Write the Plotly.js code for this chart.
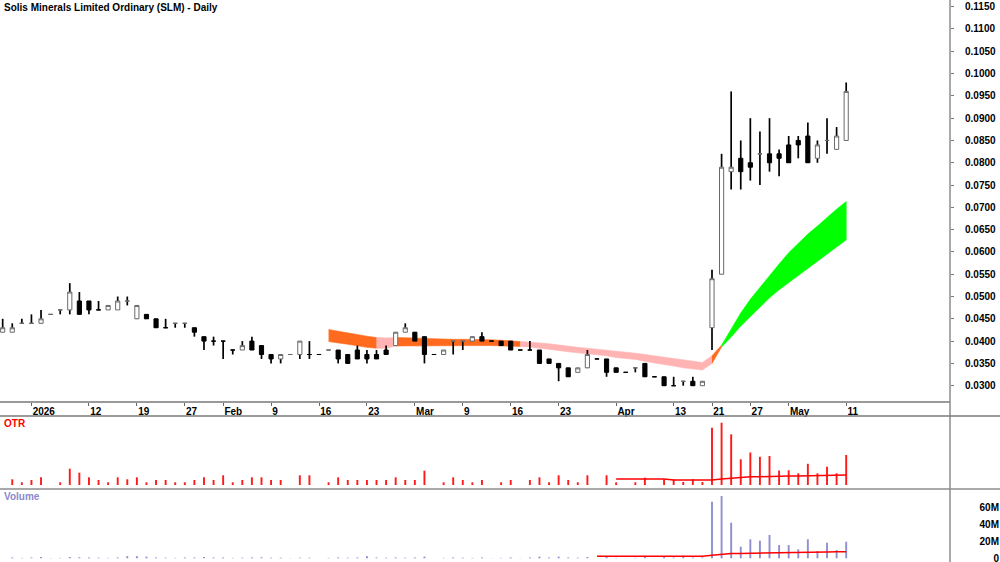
<!DOCTYPE html>
<html><head><meta charset="utf-8">
<script src="https://cdn.plot.ly/plotly-3.0.1.min.js"></script>
<style>html,body{margin:0;padding:0;background:#fff}#chart{width:1000px;height:562px}</style>
</head><body><div id="chart"></div>
<script>
const dates = ["2025-12-29","2025-12-30","2025-12-31","2026-01-02","2026-01-05","2026-01-06","2026-01-07","2026-01-08","2026-01-09","2026-01-12","2026-01-13","2026-01-14","2026-01-15","2026-01-16","2026-01-19","2026-01-20","2026-01-21","2026-01-22","2026-01-23","2026-01-27","2026-01-28","2026-01-29","2026-01-30","2026-02-02","2026-02-03","2026-02-04","2026-02-05","2026-02-06","2026-02-09","2026-02-10","2026-02-11","2026-02-12","2026-02-13","2026-02-16","2026-02-17","2026-02-18","2026-02-19","2026-02-20","2026-02-23","2026-02-24","2026-02-25","2026-02-26","2026-02-27","2026-03-02","2026-03-03","2026-03-04","2026-03-05","2026-03-06","2026-03-09","2026-03-10","2026-03-11","2026-03-12","2026-03-13","2026-03-16","2026-03-17","2026-03-18","2026-03-19","2026-03-20","2026-03-23","2026-03-24","2026-03-25","2026-03-27","2026-03-30","2026-03-31","2026-04-01","2026-04-02","2026-04-07","2026-04-08","2026-04-09","2026-04-10","2026-04-13","2026-04-14","2026-04-16","2026-04-20","2026-04-21","2026-04-22","2026-04-23","2026-04-24","2026-04-27","2026-04-28","2026-04-29","2026-04-30","2026-05-01","2026-05-04","2026-05-05","2026-05-06","2026-05-07","2026-05-08","2026-05-11"];

const openP = [0.042,0.042,0.044,0.044,0.044,0.046,0.047,0.047,0.049,0.049,0.047,0.047,0.047,0.049,0.045,0.046,0.045,0.043,0.044,0.044,0.043,0.041,0.040,0.040,0.038,0.038,0.040,0.039,0.037,0.036,0.037,0.037,0.037,0.037,0.038,0.038,0.037,0.038,0.037,0.037,0.038,0.039,0.042,0.042,0.041,0.037,0.037,0.040,0.040,0.040,0.041,0.040,0.040,0.040,0.038,0.038,0.038,0.036,0.035,0.034,0.033,0.034,0.036,0.036,0.034,0.033,0.034,0.035,0.032,0.032,0.030,0.031,0.031,0.030,0.043,0.055,0.078,0.081,0.080,0.082,0.082,0.082,0.084,0.085,0.086,0.081,0.085,0.083,0.085];
const highP = [0.045,0.044,0.045,0.046,0.047,0.046,0.047,0.053,0.051,0.049,0.049,0.048,0.050,0.050,0.048,0.046,0.045,0.045,0.044,0.044,0.043,0.041,0.041,0.040,0.038,0.040,0.041,0.039,0.037,0.037,0.037,0.040,0.040,0.037,0.038,0.038,0.037,0.039,0.038,0.038,0.039,0.042,0.044,0.042,0.041,0.037,0.038,0.040,0.040,0.041,0.042,0.040,0.040,0.040,0.038,0.040,0.038,0.036,0.035,0.034,0.034,0.038,0.036,0.036,0.034,0.033,0.034,0.035,0.032,0.032,0.032,0.031,0.032,0.031,0.056,0.082,0.096,0.085,0.090,0.087,0.090,0.083,0.086,0.086,0.089,0.085,0.090,0.088,0.098];
const lowP = [0.042,0.042,0.044,0.044,0.044,0.046,0.046,0.046,0.046,0.046,0.047,0.047,0.047,0.048,0.045,0.045,0.043,0.043,0.043,0.043,0.041,0.038,0.039,0.036,0.037,0.038,0.038,0.036,0.035,0.035,0.037,0.036,0.036,0.037,0.038,0.035,0.035,0.036,0.035,0.036,0.037,0.039,0.042,0.040,0.035,0.037,0.037,0.037,0.038,0.040,0.040,0.040,0.039,0.038,0.038,0.038,0.035,0.035,0.031,0.032,0.033,0.034,0.036,0.032,0.033,0.033,0.033,0.032,0.032,0.030,0.030,0.030,0.030,0.030,0.038,0.055,0.074,0.074,0.076,0.075,0.078,0.077,0.080,0.081,0.080,0.080,0.082,0.083,0.085];
const closeP = [0.043,0.043,0.044,0.044,0.045,0.046,0.047,0.051,0.046,0.047,0.047,0.048,0.049,0.049,0.048,0.045,0.043,0.043,0.044,0.044,0.042,0.040,0.040,0.040,0.038,0.039,0.038,0.037,0.036,0.037,0.037,0.040,0.037,0.037,0.038,0.036,0.035,0.036,0.036,0.036,0.037,0.042,0.043,0.040,0.037,0.037,0.038,0.040,0.040,0.041,0.040,0.040,0.039,0.038,0.038,0.038,0.035,0.035,0.034,0.032,0.034,0.037,0.036,0.033,0.033,0.033,0.034,0.032,0.032,0.030,0.030,0.031,0.030,0.031,0.054,0.079,0.079,0.078,0.079,0.082,0.080,0.081,0.080,0.084,0.080,0.084,0.085,0.086,0.096];

// trend ribbon (starts at index 34)
const ribbonStart = 34;
const ribbonUpper = [0.0426,0.0422,0.0419,0.0415,0.0411,0.0408,0.0407,0.0408,0.0408,0.0407,0.0406,0.0405,0.0404,0.0404,0.0404,0.0404,0.0404,0.0403,0.0402,0.0400,0.0399,0.0398,0.0396,0.0394,0.0391,0.0388,0.0386,0.0384,0.0382,0.0380,0.0377,0.0375,0.0373,0.0370,0.0367,0.0364,0.0361,0.0358,0.0354,0.0352,0.0367,0.0391,0.0427,0.0463,0.0494,0.0521,0.0548,0.0573,0.0598,0.0620,0.0640,0.0658,0.0678,0.0696,0.0713];
const ribbonLower = [0.0399,0.0396,0.0393,0.0390,0.0386,0.0384,0.0384,0.0389,0.0389,0.0389,0.0389,0.0389,0.0389,0.0389,0.0390,0.0390,0.0390,0.0390,0.0390,0.0389,0.0388,0.0387,0.0385,0.0382,0.0379,0.0376,0.0373,0.0371,0.0369,0.0367,0.0363,0.0361,0.0359,0.0355,0.0351,0.0347,0.0344,0.0340,0.0337,0.0335,0.0350,0.0387,0.0409,0.0434,0.0456,0.0476,0.0497,0.0515,0.0533,0.0548,0.0564,0.0580,0.0595,0.0611,0.0627];
// state of each ribbon interval: n = neutral (orange), d = down (pink), u = up (green)
const ribbonTrend = "nnnnnddnnnnnnnnnnnnnddddddddddddddddddddnuuuuuuuuuuuuu".split("");

const otr = [0,5.7,2.7,5,7.7,0,2.7,16.3,12.3,7.7,5,2.7,7.7,5.7,7.7,2.7,5,5,2.7,2.7,5,7.7,5,9.7,2.7,5,7.7,7.7,5,5,0,9.7,9.7,0,2.7,7.7,5,5,5,5,5,7.7,5,5,14.3,0,2.7,7.7,5,2.7,5,0,2.7,5,0,5,7.7,2.7,9.7,5,2.7,9.7,0,9.7,2.7,0,2.7,7.3,0,5.7,5.7,3,5.7,3,57.3,62.3,50.7,25.7,32.5,28.2,29,14.5,14.7,11.7,21.2,11.7,18.3,11.7,30];
const otrAvg = Array(64).fill(null).concat([6,6,6,6,6,6,5,5,5,5,5,6,7,7.7,8.3,8.3,8.7,9,9,9,9.3,9.3,9.7,9.7,10]);

const volumeM = [0,1,0.5,1,1.5,0.3,0.5,1.5,1.2,1,0.8,0.5,1,2.5,2.5,2,1,0.8,0.5,1,1,1.5,1,1,0.5,0.8,1,1.2,0.8,0.8,0.2,0.8,0.8,0.2,0.5,1,0.8,1,2.5,1,0.8,1,0.8,1,2,0.2,0.5,1,0.8,0.5,1,0.2,0.5,1,0.2,1,2,1,2,1,0.8,1.5,0.2,2,0.5,0.2,0.5,1.5,0.2,2,1,3,1,1,66.6,73.3,41.9,13.7,22.4,20.7,27.4,15.6,15.6,10.6,22.4,8.6,18.4,9.8,19.5];
const volumeAvgM = Array(62).fill(null).concat([2.5,2.5,2.5,2.5,2.5,2.5,2.5,2.5,2.5,2.5,2.5,2.5,3.5,4.7,5.5,5.7,5.8,6.0,6.2,6.5,6.6,6.7,7.0,7.2,7.4,7.6,7.8]);

const tickDates = ["2026-01-02","2026-01-12","2026-01-19","2026-01-27","2026-02-02","2026-02-09","2026-02-16","2026-02-23","2026-03-02","2026-03-09","2026-03-16","2026-03-23","2026-04-01","2026-04-13","2026-04-21","2026-04-27","2026-05-01","2026-05-11"];
const tickLabels = ["2026","12","19","27","Feb","9","16","23","Mar","9","16","23","Apr","13","21","27","May","11"];
const volTickVals = [0,20e6,40e6,60e6];
const volTickText = ["0","20M","40M","60M"];

const idx = dates.map((d,i)=>i);
const FONT = "Liberation Sans, Arial, sans-serif";
const colorMap = {n:"#FF6A1E", d:"#FFB3B3", u:"#00FF00"};

const traces = [];
// ribbon polygons
let runStart = 0;
for (let k=1;k<=ribbonTrend.length;k++){
  if (k===ribbonTrend.length || ribbonTrend[k]!==ribbonTrend[runStart]){
    const a = runStart, b = k;
    const xs=[], ys=[];
    for (let j=a;j<=b;j++){ xs.push(ribbonStart+j); ys.push(ribbonUpper[j]); }
    for (let j=b;j>=a;j--){ xs.push(ribbonStart+j); ys.push(ribbonLower[j]); }
    const c = colorMap[ribbonTrend[runStart]];
    traces.push({type:"scatter",mode:"lines",x:xs,y:ys,fill:"toself",fillcolor:c,line:{width:0.6,color:c},hoverinfo:"skip",xaxis:"x",yaxis:"y"});
    runStart = k;
  }
}
// wicks
const wx=[], wy=[];
idx.forEach(i=>{ if(highP[i]>lowP[i]){ wx.push(i,i,null); wy.push(lowP[i],highP[i],null); } });
traces.push({type:"scatter",mode:"lines",x:wx,y:wy,line:{color:"#000",width:1.7},hoverinfo:"skip",xaxis:"x",yaxis:"y"});
// bodies (overlay axis so they sit on top of the ribbon)
traces.push({type:"candlestick",x:idx,open:openP,close:closeP,
  high:idx.map(i=>Math.max(openP[i],closeP[i])),low:idx.map(i=>Math.min(openP[i],closeP[i])),
  increasing:{line:{color:"#6a6a6a",width:1},fillcolor:"#ffffff"},
  decreasing:{line:{color:"#000000",width:1},fillcolor:"#000000"},
  whiskerwidth:0,xaxis:"x",yaxis:"y4",hoverinfo:"skip"});
// OTR
traces.push({type:"bar",x:idx,y:otr,width:0.2,marker:{color:"#ff1a1a",line:{width:0}},xaxis:"x",yaxis:"y2",hoverinfo:"skip"});
traces.push({type:"scatter",mode:"lines",x:idx,y:otrAvg,line:{color:"#ff0000",width:1.5},xaxis:"x",yaxis:"y2",hoverinfo:"skip"});
// Volume
traces.push({type:"bar",x:idx,y:volumeM.map(v=>v*1e6),width:0.2,marker:{color:"#8f8fd2",line:{width:0}},xaxis:"x",yaxis:"y3",hoverinfo:"skip"});
traces.push({type:"scatter",mode:"lines",x:idx,y:volumeAvgM.map(v=>v===null?null:v*1e6),line:{color:"#ff0000",width:1.5},xaxis:"x",yaxis:"y3",hoverinfo:"skip"});

const H = 562;
const mainBottom = 1-401/H, otrTop = (H-416)/H, otrBottom = (H-489)/H;
const yRange = [0.02657, 0.1165];
const boldFont = {family:FONT,size:10,color:"#000",weight:"bold"};

const layout = {
  width:1000,height:562,margin:{l:0,r:0,t:0,b:0},
  paper_bgcolor:"#fff",plot_bgcolor:"rgba(0,0,0,0)",showlegend:false,
  boxgap:0.38,
  xaxis:{domain:[0,0.95],range:[-0.28,98.83],anchor:"y",showgrid:false,zeroline:false,
    showline:true,linecolor:"#9a9a9a",linewidth:1.5,ticks:"outside",ticklen:3,tickcolor:"#666",
    tickvals:tickDates.map(d=>dates.indexOf(d)),ticktext:tickLabels,ticklabelposition:"outside right",
    tickfont:boldFont,rangeslider:{visible:false},fixedrange:true},
  yaxis:{domain:[mainBottom,1],range:yRange,side:"right",anchor:"x",showgrid:false,zeroline:false,
    showline:false,ticks:"outside",ticklen:3,tickcolor:"#777",tick0:0.03,dtick:0.005,tickformat:".4f",
    tickfont:boldFont,ticklabelstandoff:9,fixedrange:true},
  yaxis4:{overlaying:"y",range:yRange,visible:false,fixedrange:true},
  yaxis2:{domain:[otrBottom,otrTop],range:[-4,69],anchor:"x",showgrid:false,zeroline:false,showline:false,showticklabels:false,ticks:"",fixedrange:true},
  yaxis3:{domain:[0,otrBottom],range:[-4.35e6,81.5e6],anchor:"free",position:1,side:"left",showgrid:false,zeroline:false,showline:false,
    ticks:"",tickvals:volTickVals,ticktext:volTickText,ticklabelposition:"outside",ticklabeloverflow:"allow",ticklabelstandoff:1,tickfont:boldFont,fixedrange:true},
  shapes:[
    {type:"line",xref:"paper",yref:"paper",x0:0.95,x1:0.95,y0:0,y1:1,line:{color:"#8c8c8c",width:1.5}},
    {type:"line",xref:"paper",yref:"paper",x0:0,x1:1,y0:otrTop,y1:otrTop,line:{color:"#7a7a7a",width:1.5}},
    {type:"line",xref:"paper",yref:"paper",x0:0,x1:1,y0:otrBottom,y1:otrBottom,line:{color:"#8c8c8c",width:1.5}}
  ],
  annotations:[
    {xref:"paper",yref:"paper",x:0.002,y:1,xanchor:"left",yanchor:"top",showarrow:false,
     text:"Solis Minerals Limited Ordinary (SLM) - Daily",font:{family:FONT,size:10,color:"#000",weight:"bold"}},
    {xref:"paper",yref:"paper",x:0.002,y:otrTop,xanchor:"left",yanchor:"top",showarrow:false,
     text:"OTR",font:{family:FONT,size:10,color:"#ff0000",weight:"bold"}},
    {xref:"paper",yref:"paper",x:0.002,y:otrBottom,xanchor:"left",yanchor:"top",showarrow:false,
     text:"Volume",font:{family:FONT,size:10,color:"#8a8acb",weight:"bold"}}
  ]
};
Plotly.newPlot("chart",traces,layout,{staticPlot:true,displayModeBar:false});
</script></body></html>
